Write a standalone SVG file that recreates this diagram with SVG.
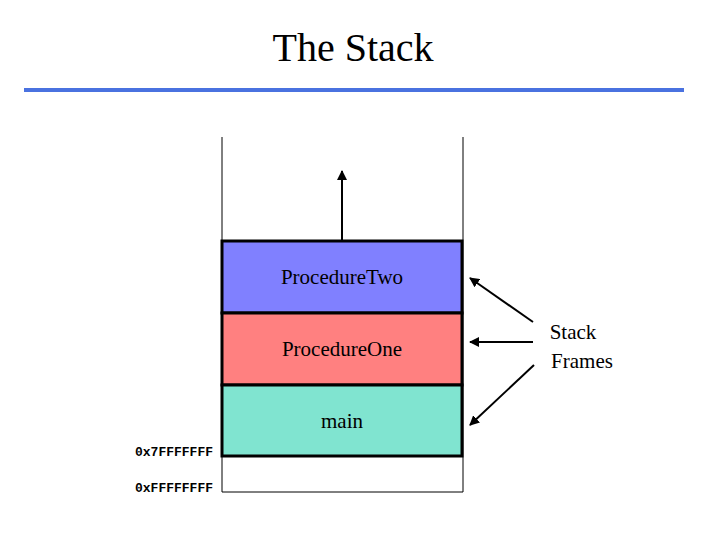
<svg xmlns="http://www.w3.org/2000/svg" width="720" height="540" viewBox="0 0 720 540">
<style>
.t{font-family:"Liberation Serif",serif;font-size:21px;fill:#000;text-anchor:middle}
.a{font-family:"Liberation Mono",monospace;font-size:13px;font-weight:bold;text-anchor:end}
.f{stroke:#000;stroke-width:3}
.c{stroke:#000;stroke-width:2;fill:none;marker-end:url(#ah)}
</style>
<defs><marker id="ah" viewBox="0 0 10 10" refX="9" refY="5" markerWidth="5" markerHeight="5" orient="auto"><path d="M0,0L10,5L0,10z"/></marker></defs>
<rect width="720" height="540" fill="#fff"/>
<text x="353" y="61" font-family="Liberation Serif,serif" font-size="40" text-anchor="middle">The Stack</text>
<rect x="24" y="88" width="660" height="4" fill="#4a72e0"/>
<g id="stack" fill="none" stroke="#000" stroke-width="1">
<path d="M222,137V492H463V137"/>
</g>
<g id="two"><rect class="f" x="222" y="241" width="240" height="72" fill="#8080ff"/><text class="t" x="342" y="284">ProcedureTwo</text></g>
<g id="one"><rect class="f" x="222" y="313" width="240" height="72" fill="#ff8080"/><text class="t" x="342" y="356">ProcedureOne</text></g>
<g id="main"><rect class="f" x="222" y="385" width="240" height="71" fill="#80e4d0"/><text class="t" x="342" y="428">main</text></g>
<g id="lbl"><text class="t" x="573" y="339" text-anchor="start" x-a="">Stack</text><text class="t" x="582" y="368">Frames</text>
<text class="a" x="213" y="456">0x7FFFFFFF</text><text class="a" x="213" y="492">0xFFFFFFFF</text></g>
<g id="connectors">
<path class="c" d="M342,241V171"/>
<path class="c" d="M533,322L470,278"/>
<path class="c" d="M533,342H470"/>
<path class="c" d="M534,365L470,425"/>
</g>
</svg>
